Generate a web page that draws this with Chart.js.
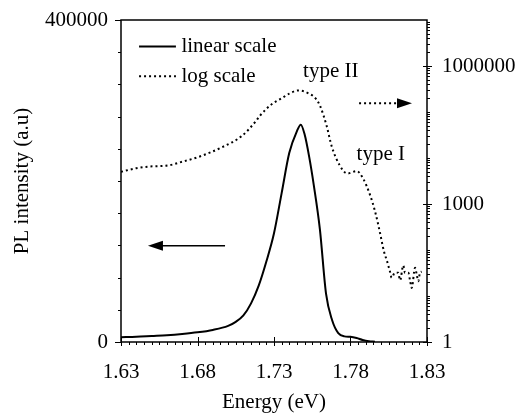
<!DOCTYPE html>
<html>
<head>
<meta charset="utf-8">
<script src="https://cdn.jsdelivr.net/npm/chart.js@4"></script>
<style>
  html, body { margin: 0; padding: 0; background: #fff; }
  #wrap { width: 519px; height: 415px; }
</style>
</head>
<body>
<div id="wrap"><canvas id="c" width="519" height="415"></canvas></div>
<script>
// PL spectrum, linear scale (left axis)
const linEnergy = [1.630, 1.640, 1.650, 1.660, 1.670, 1.680, 1.690, 1.700, 1.705, 1.710,
                   1.715, 1.720, 1.725, 1.730, 1.735, 1.740, 1.745, 1.7475, 1.750, 1.753,
                   1.756, 1.760, 1.764, 1.768, 1.772, 1.776, 1.780, 1.784, 1.788, 1.792, 1.796];
const linValues = [6000, 6500, 7500, 8500, 10000, 12000, 15000, 20000, 25000, 33000,
                   48000, 70000, 100000, 135000, 185000, 235000, 262000, 270000, 258000, 230000,
                   195000, 140000, 60000, 27000, 11000, 7000, 6500, 5000, 2500, 1000, 300];

// same spectrum, log scale (right axis)
const logEnergy = [1.630, 1.640, 1.648, 1.661, 1.670, 1.6805, 1.6958, 1.7089, 1.7176, 1.7208,
                   1.7285, 1.734, 1.740, 1.746, 1.7535, 1.757, 1.760, 1.7644, 1.7677, 1.7731,
                   1.7779, 1.7841, 1.7884, 1.7927, 1.7960, 1.7993, 1.8010, 1.8021, 1.8037, 1.8058,
                   1.8069, 1.8090, 1.8112, 1.8124, 1.8145, 1.8156, 1.8178, 1.8189, 1.8200, 1.8222,
                   1.8233, 1.8243, 1.8254, 1.8265];
const logValues = [5000, 6000, 6500, 6900, 8300, 10500, 17000, 30000, 60000, 83000,
                   148000, 190000, 250000, 295000, 245000, 200000, 138000, 50000, 18000, 6800,
                   4600, 5200, 3500, 1600, 700, 235, 125, 87, 60, 34,
                   25, 32, 32, 22, 46, 32, 32, 22, 15, 41,
                   29, 21, 32, 34];

const xTicks = [1.63, 1.68, 1.73, 1.78, 1.83];
const yTicks = [0, 400000];
const y2Ticks = [1, 1000, 1000000];
const seriesNames = ['linear scale', 'log scale'];

const FONT = '"Liberation Serif", "Times New Roman", serif';
const FS = 21;

const toXY = (xs, ys) => xs.map((e, i) => ({ x: e, y: ys[i] }));

// frame, tick marks, legend, arrows and notes
const decorations = {
  id: 'decorations',
  afterDraw(chart) {
    const { ctx, chartArea: a, scales: { x, y, y2 } } = chart;
    ctx.save();
    ctx.strokeStyle = '#000';
    ctx.fillStyle = '#000';

    // frame
    ctx.lineWidth = 1.5;
    ctx.strokeRect(a.left, a.top, a.right - a.left, a.bottom - a.top);

    ctx.lineWidth = 1;
    ctx.beginPath();
    // x minor ticks (outside) and majors (crossing)
    for (let k = 0; k <= 40; k++) {
      const px = Math.round(x.getPixelForValue(1.63 + k * 0.005)) + 0.5;
      if (k % 10 === 0) {
        ctx.moveTo(px, a.bottom - 5); ctx.lineTo(px, a.bottom + 4);
      } else {
        ctx.moveTo(px, a.bottom); ctx.lineTo(px, a.bottom + 3);
      }
    }
    // left y ticks every 40000
    for (let k = 0; k <= 10; k++) {
      const py = Math.round(y.getPixelForValue(k * 40000)) + 0.5;
      const len = (k === 0 || k === 10) ? 6 : 3;
      ctx.moveTo(a.left - len, py); ctx.lineTo(a.left, py);
    }
    // right log ticks
    for (let d = 0; d < 7; d++) {
      for (let m = 1; m <= 9; m++) {
        const v = m * Math.pow(10, d);
        const py = Math.round(y2.getPixelForValue(v)) + 0.5;
        if (m === 1 && d % 3 === 0) {
          ctx.moveTo(a.right - 4, py); ctx.lineTo(a.right + 5, py);
        } else {
          ctx.moveTo(a.right, py); ctx.lineTo(a.right + 3, py);
        }
      }
    }
    ctx.stroke();

    // legend
    const lx0 = x.getPixelForValue(1.6418), lx1 = x.getPixelForValue(1.6659);
    const ly1 = y.getPixelForValue(367000), ly2 = y.getPixelForValue(330000);
    ctx.lineWidth = 2;
    ctx.beginPath(); ctx.moveTo(lx0, ly1); ctx.lineTo(lx1, ly1); ctx.stroke();
    ctx.setLineDash([2, 3]);
    ctx.beginPath(); ctx.moveTo(lx0, ly2); ctx.lineTo(lx1, ly2); ctx.stroke();
    ctx.setLineDash([]);
    ctx.font = FS + 'px ' + FONT;
    ctx.textBaseline = 'middle';
    ctx.textAlign = 'left';
    const tx = x.getPixelForValue(1.6695);
    ctx.fillText(seriesNames[0], tx, ly1);
    ctx.fillText(seriesNames[1], tx, ly2);

    // left arrow (solid)
    const ay = y.getPixelForValue(119600);
    const aTail = x.getPixelForValue(1.698), aTip = x.getPixelForValue(1.6476);
    ctx.lineWidth = 1.5;
    ctx.beginPath(); ctx.moveTo(aTail, ay); ctx.lineTo(aTip + 12, ay); ctx.stroke();
    ctx.beginPath(); ctx.moveTo(aTip, ay); ctx.lineTo(aTip + 15, ay - 5); ctx.lineTo(aTip + 15, ay + 5); ctx.closePath(); ctx.fill();

    // right arrow (dotted)
    const by = y.getPixelForValue(296500);
    const bTail = x.getPixelForValue(1.7856), bTip = x.getPixelForValue(1.8202);
    ctx.lineWidth = 2;
    ctx.setLineDash([2, 3]);
    ctx.beginPath(); ctx.moveTo(bTail, by); ctx.lineTo(bTip - 14, by); ctx.stroke();
    ctx.setLineDash([]);
    ctx.beginPath(); ctx.moveTo(bTip, by); ctx.lineTo(bTip - 15, by - 5); ctx.lineTo(bTip - 15, by + 5); ctx.closePath(); ctx.fill();

    // peak notes
    ctx.textBaseline = 'alphabetic';
    ctx.fillText('type II', x.getPixelForValue(1.749), y.getPixelForValue(329000));
    ctx.fillText('type I', x.getPixelForValue(1.784), y.getPixelForValue(226000));
    ctx.restore();
  }
};

// keep the plot box where the reference has it
const fixY = (w) => (s) => { s.width = w; s.paddingTop = 0; s.paddingBottom = 0; };

new Chart(document.getElementById('c'), {
  type: 'line',
  data: {
    datasets: [
      {
        label: seriesNames[0],
        data: toXY(linEnergy, linValues),
        yAxisID: 'y',
        borderColor: '#000',
        borderWidth: 2,
        pointRadius: 0,
        cubicInterpolationMode: 'monotone'
      },
      {
        label: seriesNames[1],
        data: toXY(logEnergy, logValues),
        yAxisID: 'y2',
        borderColor: '#000',
        borderWidth: 2,
        borderDash: [2, 3],
        pointRadius: 0,
        cubicInterpolationMode: 'monotone'
      }
    ]
  },
  options: {
    responsive: false,
    animation: false,
    events: [],
    layout: { padding: { top: 20, left: 0, right: 0, bottom: 0 } },
    plugins: { legend: { display: false }, tooltip: { enabled: false } },
    scales: {
      x: {
        type: 'linear',
        min: 1.63,
        max: 1.83,
        grid: { display: false, drawTicks: false },
        border: { display: false },
        afterBuildTicks: s => { s.ticks = xTicks.map(v => ({ value: v })); },
        afterFit: s => { s.height = 73; s.paddingLeft = 0; s.paddingRight = 0; },
        ticks: {
          color: '#000', padding: 18, maxRotation: 0,
          font: { family: FONT, size: FS },
          callback: v => v.toFixed(2)
        },
        title: {
          display: true, text: 'Energy (eV)', color: '#000',
          font: { family: FONT, size: FS }, padding: { top: 0, bottom: 0 }
        }
      },
      y: {
        type: 'linear',
        position: 'left',
        min: 0,
        max: 400000,
        grid: { display: false, drawTicks: false },
        border: { display: false },
        afterBuildTicks: s => { s.ticks = yTicks.map(v => ({ value: v })); },
        afterFit: fixY(121),
        ticks: {
          color: '#000', padding: 13,
          font: { family: FONT, size: FS },
          callback: v => String(v)
        },
        title: {
          display: true, text: 'PL intensity (a.u)', color: '#000',
          font: { family: FONT, size: FS }, padding: { top: 10, bottom: 0 }
        }
      },
      y2: {
        type: 'logarithmic',
        position: 'right',
        min: 1,
        max: 10000000,
        grid: { display: false, drawTicks: false },
        border: { display: false },
        afterBuildTicks: s => { s.ticks = y2Ticks.map(v => ({ value: v })); },
        afterFit: fixY(92),
        ticks: {
          color: '#000', padding: 15,
          font: { family: FONT, size: FS },
          callback: v => String(v)
        }
      }
    }
  },
  plugins: [decorations]
});
</script>
</body>
</html>
